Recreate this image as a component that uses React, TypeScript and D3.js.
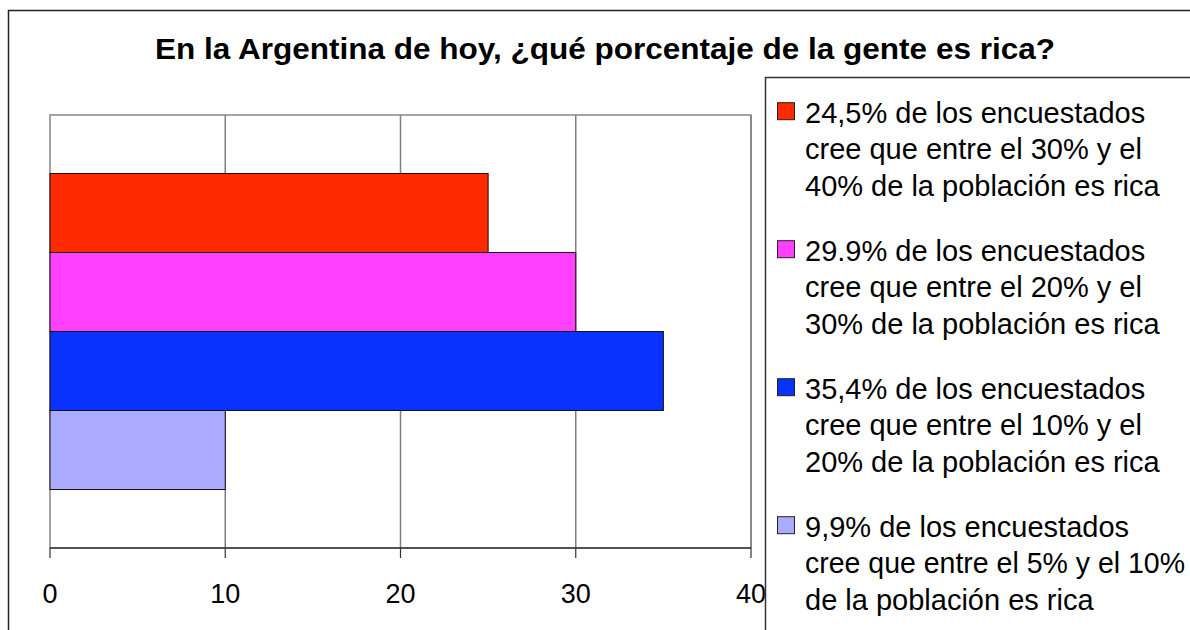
import React from "react";
import * as d3 from "d3";

const title = "En la Argentina de hoy, ¿qué porcentaje de la gente es rica?";
const seriesKeys = ["s1", "s2", "s3", "s4"];
const seriesValues = [25, 30, 35, 10];
const seriesColors = ["#FF2A00", "#FF40FF", "#0A32FF", "#AAAAFF"];
const legendLines = [
  ["24,5% de los encuestados", "cree que entre el 30% y el", "40% de la población es rica"],
  ["29.9% de los encuestados", "cree que entre el 20% y el", "30% de la población es rica"],
  ["35,4% de los encuestados", "cree que entre el 10% y el", "20% de la población es rica"],
  ["9,9% de los encuestados", "cree que entre el 5% y el 10%", "de la población es rica"],
];
const xTicks = [0, 10, 20, 30, 40];

const FONT = "'Liberation Sans', Arial, Helvetica, sans-serif";

export default function App() {
  const plot = { left: 50, right: 751, top: 115, bottom: 548 };
  const x = d3.scaleLinear().domain([0, 40]).range([plot.left, plot.right]);
  const y = d3
    .scaleBand<string>()
    .domain(seriesKeys)
    .range([plot.top, plot.bottom])
    .paddingInner(0)
    .paddingOuter(0.74);

  const legendX = 765.5;
  const legendY = 77.5;
  const firstBaseline = 122.7;
  const entryStep = 138;
  const lineStep = 36.5;
  const maxLegendTextWidth = 380;

  return (
    <svg
      width={1190}
      height={630}
      style={{ position: "fixed", left: 0, top: 0, background: "#fff" }}
      fontFamily={FONT}
    >
      <rect x={0} y={0} width={1190} height={630} fill="#fff" />
      {/* outer border */}
      <rect x={8.5} y={10.5} width={1300} height={700} fill="#fff" stroke="#222" strokeWidth={1.5} />
      {/* title */}
      <text
        x={605}
        y={59}
        textAnchor="middle"
        fontSize={30}
        fontWeight="bold"
        fill="#000"
        textLength={900}
        lengthAdjust="spacingAndGlyphs"
      >
        {title}
      </text>
      {/* plot frame */}
      <rect
        x={plot.left}
        y={plot.top}
        width={plot.right - plot.left}
        height={plot.bottom - plot.top}
        fill="#fff"
        stroke="#888"
        strokeWidth={1.5}
      />
      {/* gridlines */}
      {xTicks.slice(1).map((t) => (
        <line key={t} x1={x(t)} x2={x(t)} y1={plot.top} y2={plot.bottom} stroke="#808080" strokeWidth={1.5} />
      ))}
      {/* bars */}
      {seriesKeys.map((k, i) => (
        <rect
          key={k}
          x={x(0)}
          y={y(k)}
          width={x(seriesValues[i]) - x(0)}
          height={y.bandwidth()}
          fill={seriesColors[i]}
          stroke="#111"
          strokeWidth={1}
        />
      ))}
      {/* axis */}
      <line x1={plot.left} x2={plot.right} y1={plot.bottom} y2={plot.bottom} stroke="#000" strokeWidth={1.2} />
      {xTicks.map((t) => (
        <g key={t}>
          <line x1={x(t)} x2={x(t)} y1={plot.bottom} y2={plot.bottom + 10} stroke="#333" strokeWidth={1.2} />
          <text x={x(t)} y={603} textAnchor="middle" fontSize={27} fill="#000">
            {t}
          </text>
        </g>
      ))}
      {/* legend */}
      <rect x={legendX} y={legendY} width={600} height={700} fill="#fff" stroke="#333" strokeWidth={1.5} />
      {legendLines.map((lines, i) => {
        const base = firstBaseline + i * entryStep;
        return (
          <g key={i}>
            <rect
              x={777.5}
              y={base - 20}
              width={17}
              height={17}
              fill={seriesColors[i]}
              stroke="#222"
              strokeWidth={1}
            />
            {lines.map((ln, j) => {
              const long = ln.length >= 29;
              return (
                <text
                  key={j}
                  x={805}
                  y={base + j * lineStep}
                  fontSize={29}
                  fill="#000"
                  {...(long ? { textLength: maxLegendTextWidth, lengthAdjust: "spacingAndGlyphs" } : {})}
                >
                  {ln}
                </text>
              );
            })}
          </g>
        );
      })}
    </svg>
  );
}
